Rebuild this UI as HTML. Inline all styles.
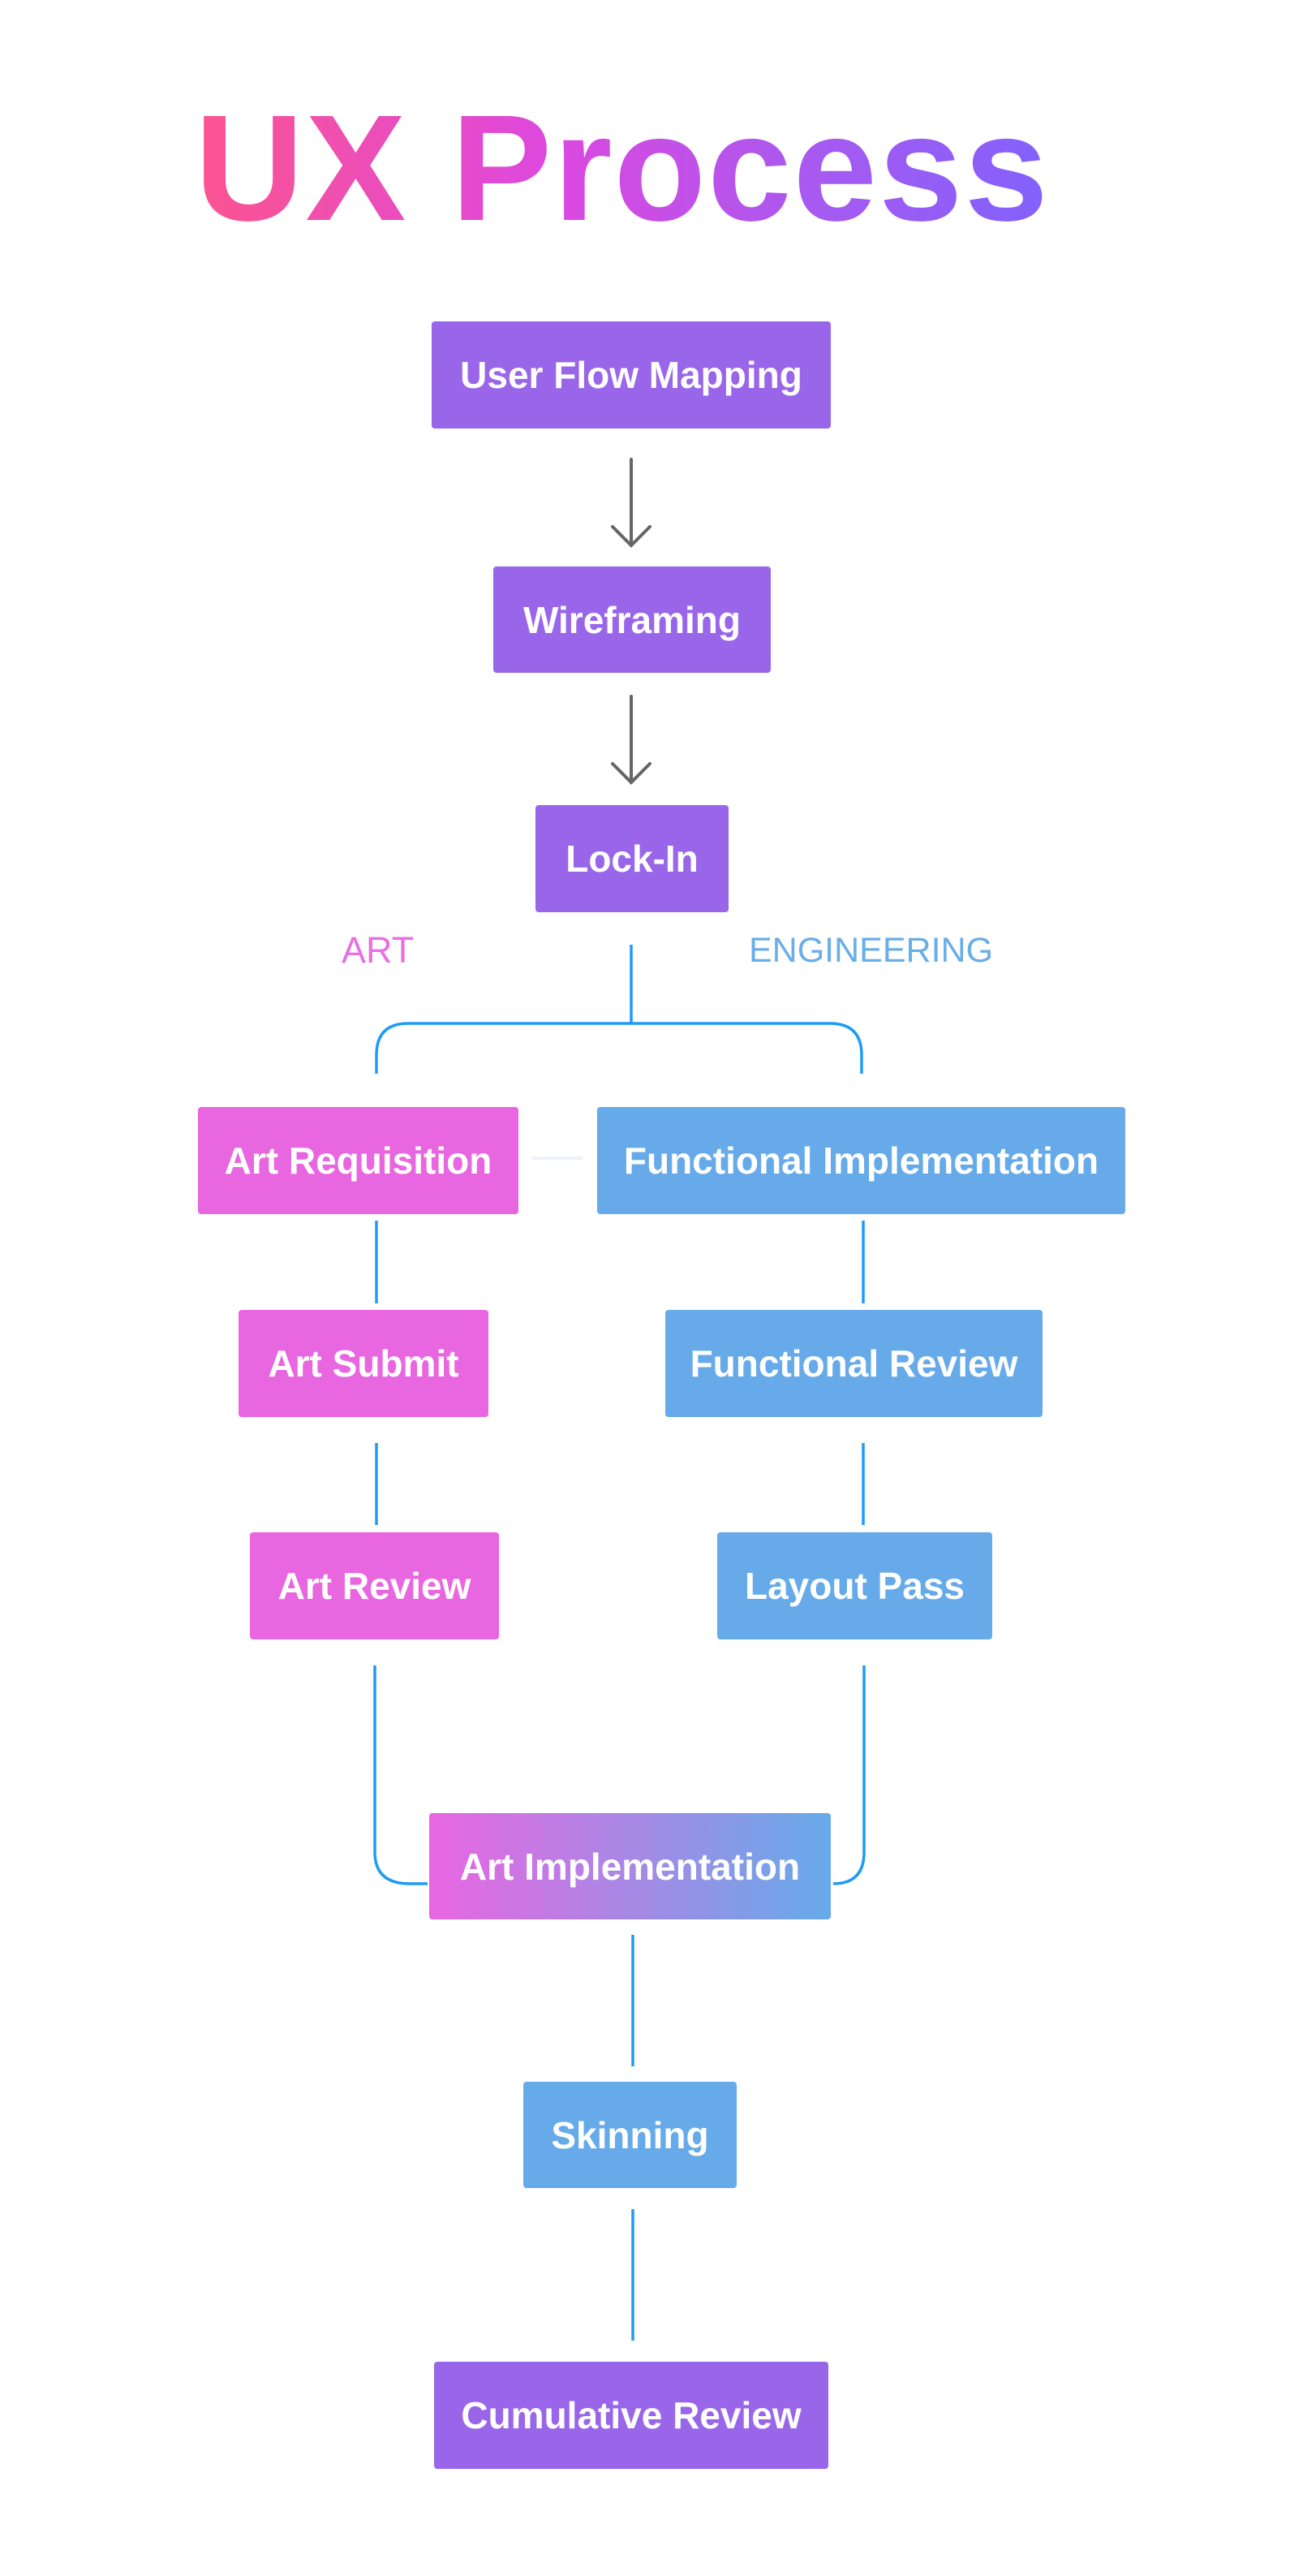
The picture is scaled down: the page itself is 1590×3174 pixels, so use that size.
<!DOCTYPE html>
<html><head><meta charset="utf-8"><style>
html,body{margin:0;padding:0;background:#fff;}
body{width:1590px;height:3174px;position:relative;overflow:hidden;font-family:"Liberation Sans",Arial,sans-serif;}
.t{position:absolute;left:240px;top:108px;width:1110px;font-size:186px;font-weight:bold;letter-spacing:2px;line-height:200px;
background:linear-gradient(90deg,#fc5490 0%,#dc48e0 40%,#a55af0 70%,#7b63ff 100%);-webkit-background-clip:text;background-clip:text;color:transparent;white-space:nowrap;}
.b{position:absolute;display:flex;align-items:center;justify-content:center;color:#fff;font-weight:bold;font-size:46px;border-radius:4px;white-space:nowrap;}
.p{background:#9966e9}.k{background:#e966e1}.u{background:#66aae9}
.l{position:absolute;font-size:45px;line-height:50px;white-space:nowrap;}
svg{position:absolute;left:0;top:0;}
</style></head><body>
<div class="t">UX Process</div>
<svg width="1590" height="3174" fill="none">
<g stroke="#666" stroke-width="4" stroke-linecap="round">
<line x1="778" y1="566" x2="778" y2="672"/><polyline points="755,649 778,672 801,649"/>
<line x1="778" y1="858" x2="778" y2="964"/><polyline points="755,941 778,964 801,941"/>
</g>
<g stroke="#1e9bf5" stroke-width="3.5">
<line x1="778" y1="1164" x2="778" y2="1261"/>
<path d="M464 1323 V1300 Q464 1261 503 1261 H1023 Q1062 1261 1062 1300 V1323"/>
<line x1="464" y1="1504" x2="464" y2="1606"/><line x1="1064" y1="1504" x2="1064" y2="1606"/>
<line x1="464" y1="1778" x2="464" y2="1879"/><line x1="1064" y1="1778" x2="1064" y2="1879"/>
<path d="M462 2052 V2282 Q462 2321 505 2321 H527"/>
<path d="M1065 2052 V2282 Q1065 2321 1027 2321 H1027"/>
<line x1="780" y1="2384" x2="780" y2="2546"/>
<line x1="780" y1="2722" x2="780" y2="2884"/>
</g>
<line x1="656" y1="1427" x2="718" y2="1427" stroke="#eef0fb" stroke-width="4"/>
</svg>
<div class="b p" style="left:532px;top:396px;width:492px;height:132px">User Flow Mapping</div>
<div class="b p" style="left:608px;top:698px;width:342px;height:131px">Wireframing</div>
<div class="b p" style="left:660px;top:992px;width:238px;height:132px">Lock-In</div>
<div class="l" style="left:421px;top:1146px;color:#e770e2">ART</div>
<div class="l" style="left:923px;top:1146px;color:#6aaee8;font-size:43px">ENGINEERING</div>
<div class="b k" style="left:244px;top:1364px;width:395px;height:132px">Art Requisition</div>
<div class="b u" style="left:736px;top:1364px;width:651px;height:132px">Functional Implementation</div>
<div class="b k" style="left:294px;top:1614px;width:308px;height:132px">Art Submit</div>
<div class="b u" style="left:820px;top:1614px;width:465px;height:132px">Functional Review</div>
<div class="b k" style="left:308px;top:1888px;width:307px;height:132px">Art Review</div>
<div class="b u" style="left:884px;top:1888px;width:339px;height:132px">Layout Pass</div>
<div class="b" style="left:529px;top:2234px;width:495px;height:131px;background:linear-gradient(90deg,#e966e1,#66aae9)">Art Implementation</div>
<div class="b u" style="left:645px;top:2565px;width:263px;height:131px">Skinning</div>
<div class="b p" style="left:535px;top:2910px;width:486px;height:132px">Cumulative Review</div>
</body></html>
